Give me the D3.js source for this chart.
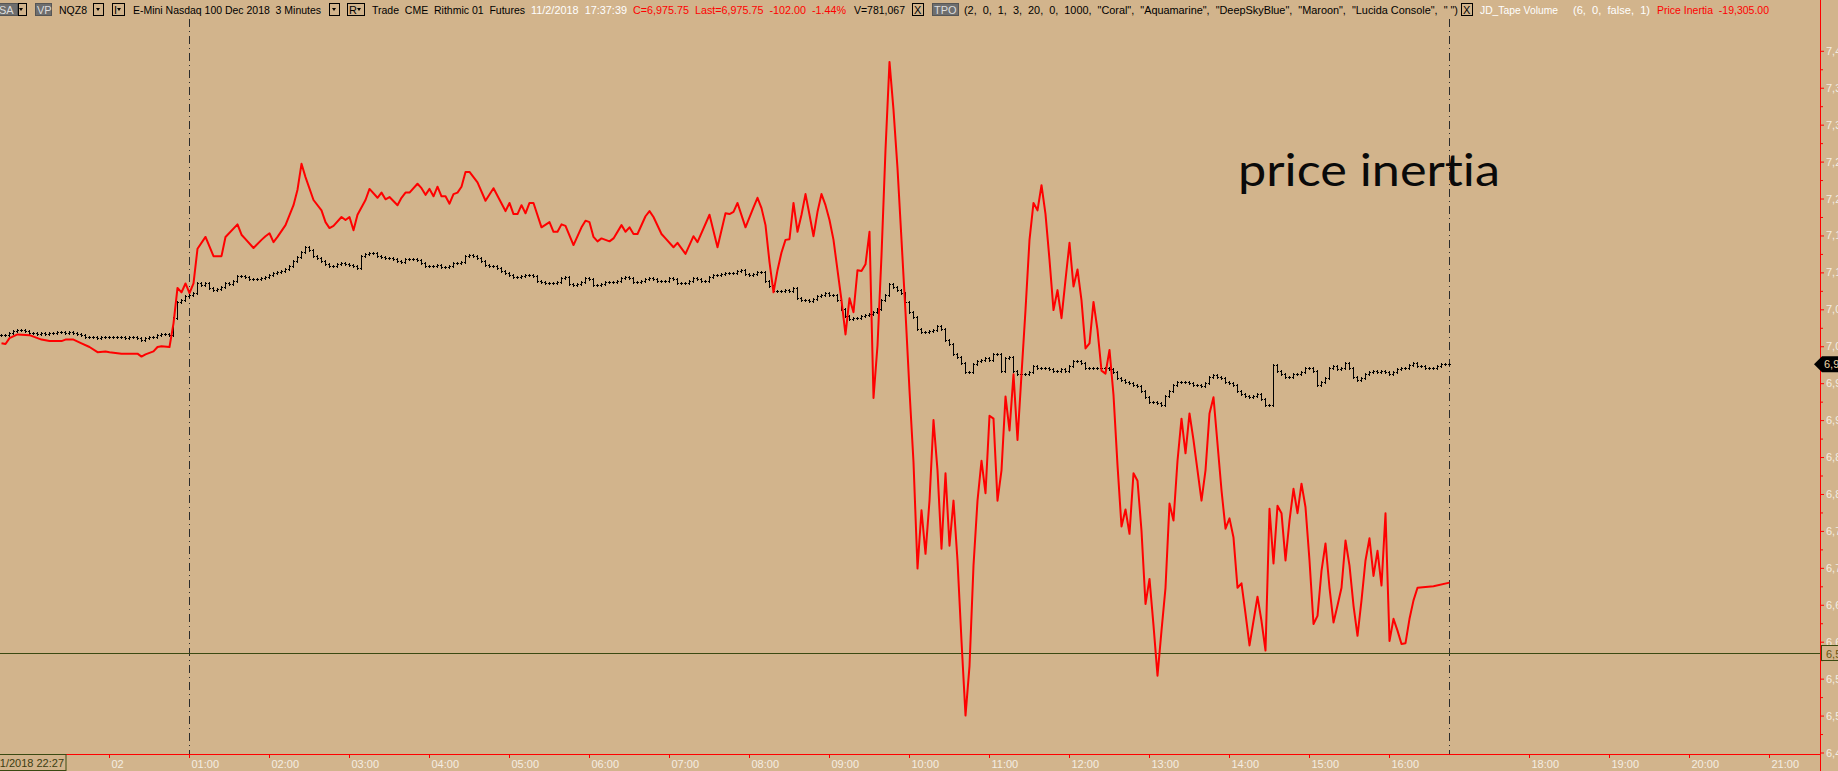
<!DOCTYPE html>
<html>
<head>
<meta charset="utf-8">
<script src="https://cdn.jsdelivr.net/npm/d3@7"></script>
<style>
body { margin: 0; background: #d2b48c; overflow: hidden; }
svg { display: block; }
</style>
</head>
<body>
<svg id="chart" width="1838" height="771"></svg>
<script>
"use strict";

// 3 minute NQZ8 bars, one close per bar (open = previous close)
let bar_close = [
    7015,7015,7018,7020,7022,7022,7020,7018,7018,7016,7018,7016,7018,7018,7019,7019,7018,7019,7018,7016,
    7015,7013,7013,7012,7011,7012,7013,7012,7012,7012,7012,7011,7012,7012,7011,7009,7011,7013,7013,7015,
    7016,7016,7015,7038,7060,7062,7068,7070,7072,7085,7083,7085,7079,7076,7077,7080,7085,7084,7088,7095,
    7095,7094,7091,7091,7091,7092,7094,7096,7099,7100,7102,7104,7108,7115,7121,7127,7134,7130,7122,7119,
    7115,7111,7108,7108,7111,7113,7111,7110,7108,7106,7122,7125,7126,7126,7122,7121,7119,7119,7118,7115,
    7114,7118,7118,7118,7117,7113,7108,7108,7108,7110,7107,7107,7108,7113,7113,7114,7122,7123,7122,7119,
    7115,7110,7108,7108,7106,7102,7099,7096,7094,7094,7095,7096,7096,7095,7089,7087,7085,7085,7085,7087,
    7092,7094,7084,7083,7084,7087,7092,7091,7083,7083,7084,7087,7087,7087,7088,7092,7094,7092,7087,7087,
    7088,7091,7092,7091,7088,7088,7089,7092,7091,7085,7085,7085,7088,7092,7091,7089,7089,7094,7096,7096,
    7098,7099,7099,7099,7102,7103,7098,7096,7098,7100,7100,7089,7081,7075,7075,7075,7076,7075,7079,7066,
    7062,7062,7061,7064,7068,7070,7072,7070,7069,7062,7051,7041,7037,7038,7038,7041,7042,7043,7047,7051,
    7062,7070,7084,7080,7076,7072,7060,7046,7039,7024,7019,7019,7020,7022,7027,7024,7008,7003,6989,6985,
    6978,6965,6965,6976,6980,6981,6984,6982,6989,6989,6967,6984,6986,6967,6962,6963,6963,6965,6973,6971,
    6970,6970,6969,6967,6967,6969,6966,6973,6980,6980,6977,6970,6971,6970,6970,6971,6970,6969,6965,6957,
    6954,6951,6950,6947,6946,6940,6931,6924,6925,6923,6921,6932,6939,6948,6951,6952,6951,6950,6947,6948,
    6946,6950,6958,6961,6959,6957,6952,6950,6948,6940,6936,6933,6931,6932,6935,6929,6921,6920,6974,6967,
    6963,6958,6959,6963,6962,6965,6970,6971,6967,6948,6952,6957,6970,6973,6969,6970,6977,6970,6958,6954,
    6957,6962,6965,6966,6965,6966,6965,6963,6965,6969,6970,6971,6974,6977,6973,6973,6971,6971,6971,6973,
    6976,6976,6975.75
];

// Price Inertia, plotted on the price scale: bar index + value
let inertia_bar = [
    0,1,2,4,7,10,12,15,16,18,20,22,24,26,27,30,34,35,36,38,39,40,42,43,44,45,46,47,48,49,
    51,53,55,56,59,60,61,63,65,66,67,68,69,71,73,74,75,76,78,80,81,82,83,85,86,87,88,89,91,92,
    94,95,96,97,99,100,101,102,104,105,106,107,108,109,110,111,112,113,114,115,116,117,119,121,123,126,127,128,129,130,
    131,132,133,135,137,138,139,140,141,143,145,146,147,148,149,150,152,153,155,156,157,158,159,161,162,163,165,166,168,169,
    171,173,174,177,179,181,182,183,184,186,188,189,190,191,192,193,194,195,196,197,198,199,200,201,202,203,204,205,206,207,
    208,209,210,211,212,213,214,215,216,217,218,219,220,221,222,223,224,225,226,227,228,229,230,231,232,233,234,235,236,237,
    238,239,240,241,242,243,244,245,246,247,248,249,250,251,252,253,254,255,256,257,258,259,260,261,262,263,264,265,266,267,
    268,269,270,271,272,273,274,275,276,277,278,279,280,281,282,283,284,285,286,287,288,289,290,291,292,293,294,295,296,297,
    298,299,300,301,302,303,304,305,306,307,308,309,310,311,312,313,314,315,316,317,318,319,320,321,322,323,324,325,326,327,
    328,329,330,331,332,333,334,335,336,337,338,339,340,341,342,343,344,345,346,347,348,349,350,351,352,353,354,358,362
];
let inertia_value = [
    7004,7003,7011,7016,7015,7009,7007,7007,7009,7009,7004,6999,6992,6993,6992,6990,6990,6986,6989,6993,6999,7000,6999,7031,7079,7073,7085,7072,7085,7132,
    7148,7122,7122,7148,7165,7151,7145,7133,7144,7149,7153,7141,7148,7164,7191,7212,7247,7229,7198,7184,7168,7160,7163,7175,7171,7175,7157,7178,7198,7213,
    7201,7208,7199,7202,7191,7201,7208,7208,7220,7214,7205,7213,7203,7216,7203,7203,7193,7206,7208,7216,7236,7236,7222,7197,7214,7183,7194,7179,7179,7191,
    7180,7194,7194,7161,7168,7155,7155,7165,7163,7137,7161,7170,7168,7148,7142,7146,7142,7146,7164,7155,7161,7152,7152,7176,7183,7175,7152,7146,7134,7140,
    7125,7149,7141,7178,7134,7180,7179,7182,7194,7161,7188,7201,7187,7164,7114,7073,7103,7127,7144,7145,7194,7155,7178,7206,7178,7149,7182,7206,7191,7171,
    7144,7103,7062,7016,7065,7046,7103,7102,7111,7155,6930,7001,7123,7266,7385,7320,7241,7144,7046,6940,6843,6699,6778,6719,6791,6900,6832,6726,6828,6730,
    6791,6710,6601,6500,6567,6703,6791,6845,6801,6906,6902,6791,6832,6932,6886,6962,6873,6962,7049,7144,7194,7184,7218,7179,7117,7049,7076,7038,7090,7140,
    7081,7104,7062,6997,7004,7060,7022,6967,6963,6995,6934,6839,6756,6779,6746,6828,6818,6750,6651,6685,6622,6554,6615,6673,6787,6764,6845,6902,6855,6909,
    6873,6832,6791,6832,6909,6931,6868,6805,6753,6767,6741,6673,6679,6638,6595,6628,6661,6628,6588,6780,6706,6784,6774,6710,6764,6807,6774,6814,6782,6710,
    6624,6635,6696,6733,6673,6626,6649,6673,6737,6703,6649,6608,6656,6710,6740,6689,6723,6676,6774,6601,6631,6615,6597,6598,6631,6656,6673,6675,6680
];

let tick_bars = [27,47,67,87,107,127,147,167,187,207,227,247,267,287,307,327,347,382,402,422,442];
let tick_labels = ["02","01:00","02:00","03:00","04:00","05:00","06:00","07:00","08:00","09:00","10:00",
    "11:00","12:00","13:00","14:00","15:00","16:00","18:00","19:00","20:00","21:00"];
let session_bars = [47, 362];

let price_ticks = [7400,7350,7300,7250,7200,7150,7100,7050,7000,6950,6900,6850,6800,6750,6700,6650,6600,6550,6500,6450];
let last_price = 6975.75;
let level_price = 6584.25;
let first_bar_label = "11/1/2018 22:27";

let tan = "#d2b48c";
let font = "'Liberation Sans', Arial, sans-serif";

let svg = d3.select("#chart");
svg.append("rect").attr("width", 1838).attr("height", 771).attr("fill", tan);

let x = d3.scaleLinear().domain([-0.25, 454.75]).range([0, 1820]);
let y = d3.scaleLinear().domain([6450, 7400]).range([752.5, 50.8]);

// big note (under the session line, like the original)
svg.append("text")
    .attr("x", 1238).attr("y", 186)
    .attr("font-family", "Lato, 'Open Sans', sans-serif")
    .attr("font-size", 45)
    .attr("textLength", 262)
    .attr("lengthAdjust", "spacingAndGlyphs")
    .style("font-variant-ligatures", "none")
    .attr("fill", "#0a0a0a")
    .text("price inertia");

// session separators
for (let b of session_bars) {
    svg.append("line")
        .attr("x1", x(b) + 0.5).attr("x2", x(b) + 0.5)
        .attr("y1", 19).attr("y2", 754)
        .attr("stroke", "#2b2b2b").attr("stroke-width", 1)
        .attr("stroke-dasharray", "8,4,1,4");
}

// horizontal level line
let level_y = Math.round(y(level_price)) + 0.5;
svg.append("line")
    .attr("x1", 0).attr("x2", 1820).attr("y1", level_y).attr("y2", level_y)
    .attr("stroke", "#3b4a12").attr("stroke-width", 1);

// bars
let bars = svg.append("g").attr("shape-rendering", "crispEdges").attr("fill", "#000");
bar_close.forEach((c, i) => {
    let o = i > 0 ? bar_close[i - 1] : c;
    let bx = Math.round(x(i));
    let top = Math.round(Math.min(y(o), y(c))) - 1;
    let bot = Math.round(Math.max(y(o), y(c))) + 2;
    bars.append("rect").attr("x", bx).attr("y", top).attr("width", 1).attr("height", bot - top);
    bars.append("rect").attr("x", bx - 1).attr("y", Math.round(y(o))).attr("width", 1).attr("height", 1);
    bars.append("rect").attr("x", bx + 1).attr("y", Math.round(y(c))).attr("width", 1).attr("height", 1);
});

// price inertia line
let inertia = inertia_bar.map((b, i) => [b, inertia_value[i]]);
svg.append("path")
    .datum(inertia)
    .attr("d", d3.line().x(d => x(d[0]) + 0.5).y(d => y(d[1])))
    .attr("fill", "none")
    .attr("stroke", "#ff0000")
    .attr("stroke-width", 2)
    .attr("stroke-linejoin", "round");

// bottom time axis
let x_axis = svg.append("g")
    .attr("transform", "translate(0,754)")
    .call(d3.axisBottom(x).tickValues(tick_bars).tickFormat((d, i) => tick_labels[i]).tickSize(4).tickSizeOuter(0));
x_axis.select(".domain").attr("stroke", "#ff0000");
x_axis.selectAll(".tick line").attr("stroke", "#ff0000");
x_axis.selectAll(".tick text")
    .attr("text-anchor", "start").attr("x", 2).attr("y", 14).attr("dy", null)
    .attr("fill", "#f4ede2").attr("font-family", font).attr("font-size", 11);

// right price axis
svg.append("line")
    .attr("x1", 1820.5).attr("x2", 1820.5).attr("y1", 0).attr("y2", 771)
    .attr("stroke", "#ff0000");
let minor_ticks = price_ticks.slice(1).map(p => p + 25);
let y_minor = svg.append("g")
    .attr("transform", "translate(1820,0)")
    .call(d3.axisRight(y).tickValues(minor_ticks).tickFormat("").tickSize(3));
y_minor.select(".domain").remove();
y_minor.selectAll(".tick line").attr("stroke", "#ff0000");
let y_axis = svg.append("g")
    .attr("transform", "translate(1820,0)")
    .call(d3.axisRight(y).tickValues(price_ticks).tickFormat(d3.format(",")).tickSize(4).tickPadding(2));
y_axis.select(".domain").remove();
y_axis.selectAll(".tick line").attr("stroke", "#ff0000");
y_axis.selectAll(".tick text")
    .attr("fill", "#f4ede2").attr("font-family", font).attr("font-size", 11);

// level label
svg.append("rect")
    .attr("x", 1821.5).attr("y", level_y - 8).attr("width", 30).attr("height", 15)
    .attr("fill", tan).attr("stroke", "#3b4a12");
svg.append("text")
    .attr("x", 1826).attr("y", level_y + 4)
    .attr("font-family", font).attr("font-size", 11).attr("fill", "#6b5512")
    .text(d3.format(",.2f")(level_price));

// last price marker
let ly = y(last_price);
svg.append("path")
    .attr("d", `M1814,${ly} L1822,${ly - 8} L1840,${ly - 8} L1840,${ly + 8} L1822,${ly + 8} Z`)
    .attr("fill", "#000");
svg.append("text")
    .attr("x", 1824).attr("y", ly + 4)
    .attr("font-family", font).attr("font-size", 11).attr("fill", "#f0d9a8")
    .text(d3.format(",.2f")(last_price));

// first bar date label
svg.append("rect")
    .attr("x", -12).attr("y", 754.5).attr("width", 78).attr("height", 16)
    .attr("fill", tan).attr("stroke", "#3b4a12");
svg.append("text")
    .attr("x", 64).attr("y", 767).attr("text-anchor", "end")
    .attr("font-family", font).attr("font-size", 11).attr("fill", "#3d3d12")
    .text(first_bar_label);

// header strip
let header = svg.append("g").attr("font-family", font).attr("font-size", 11);

function header_text(hx, txt, color, w) {
    header.append("text").attr("x", hx).attr("y", 14).attr("fill", color)
        .attr("textLength", w).attr("lengthAdjust", "spacingAndGlyphs")
        .attr("xml:space", "preserve")
        .text(txt);
}

function header_box(hx, w, fill, txt, txt_color, arrow, tx) {
    header.append("rect").attr("x", hx + 0.5).attr("y", 3.5).attr("width", w).attr("height", 12)
        .attr("fill", fill).attr("stroke", fill == "none" ? "#000" : "#555");
    if (txt) {
        header.append("text").attr("x", tx != undefined ? tx : hx + 2).attr("y", 13.5).attr("fill", txt_color).text(txt);
    }
    if (arrow) {
        let ax = hx + w - 5;
        header.append("path").attr("d", `M${ax - 2},8 L${ax + 2},8 L${ax},11 Z`).attr("fill", "#000");
    }
}

header_box(-10, 27, "#6e6e6e", "SA", "#dcdcdc", false, -1);
header_box(18, 8, "none", "", "", true);
header_box(35, 16, "#6e6e6e", "VP", "#dcdcdc", false);
header_text(59, "NQZ8", "#000", 28);
header_box(93, 10, "none", "", "", true);
header_box(112, 12, "none", "I", "#000", true);
header_text(133, "E-Mini Nasdaq 100 Dec 2018  3 Minutes", "#000", 188);
header_box(329, 10, "none", "", "", true);
header_box(347, 17, "none", "R", "#000", true);
header_text(372, "Trade  CME  Rithmic 01  Futures", "#000", 153);
header_text(531, "11/2/2018  17:37:39", "#ffffff", 96);
header_text(633, "C=6,975.75  Last=6,975.75  -102.00  -1.44%", "#ff0000", 213);
header_text(854, "V=781,067", "#000", 51);
header_box(912, 11, "none", "X", "#000", false);
header_box(932, 26, "#6e6e6e", "TPO", "#dcdcdc", false);
header_text(964, "(2,  0,  1,  3,  20,  0,  1000,  \"Coral\",  \"Aquamarine\",  \"DeepSkyBlue\",  \"Maroon\",  \"Lucida Console\",  \" \")", "#000", 494);
header_box(1461, 11, "none", "X", "#000", false);
header_text(1480, "JD_Tape Volume", "#ffffff", 78);
header_text(1573, "(6,  0,  false,  1)", "#ffffff", 77);
header_text(1657, "Price Inertia  -19,305.00", "#ff0000", 112);
</script>
</body>
</html>
